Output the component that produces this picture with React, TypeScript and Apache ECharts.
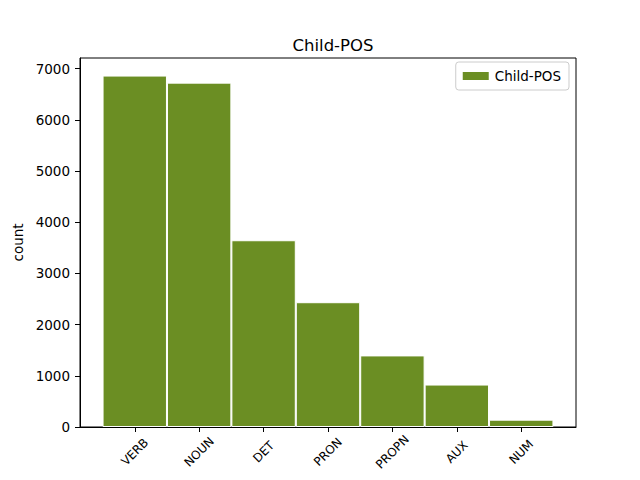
import React, { useEffect, useRef } from "react";
import * as echarts from "echarts";

const categories = ["VERB", "NOUN", "DET", "PRON", "PROPN", "AUX", "NUM"];
const counts = [6863, 6725, 3647, 2437, 1398, 829, 143];
const yTicks = [0, 1000, 2000, 3000, 4000, 5000, 6000, 7000];
const seriesName = "Child-POS";
const titleText = "Child-POS";
const yAxisName = "count";

export default function App() {
  const ref = useRef<HTMLDivElement>(null);
  useEffect(() => {
    if (!ref.current) return;
    const chart = echarts.init(ref.current, null, { renderer: "svg" });
    const font = "DejaVu Sans";
    const positions = categories.map((_, i) => i);
    chart.setOption({
      animation: false,
      backgroundColor: "#ffffff",
      textStyle: { fontFamily: font },
      title: {
        text: titleText,
        left: 328,
        textAlign: "center",
        top: 32,
        textStyle: { fontFamily: font, fontSize: 16.5, fontWeight: "normal", color: "#000" },
      },
      legend: {
        right: 71,
        top: 62,
        orient: "vertical",
        data: [seriesName],
        icon: "rect",
        itemWidth: 28,
        itemHeight: 10,
        itemGap: 10,
        padding: [7, 8, 7, 5],
        borderColor: "#cccccc",
        borderWidth: 1,
        borderRadius: 3,
        backgroundColor: "rgba(255,255,255,0.8)",
        textStyle: { fontFamily: font, fontSize: 13.5, color: "#000" },
      },
      grid: {
        left: 80,
        right: 64,
        top: 58,
        bottom: 53,
        show: true,
        borderColor: "#000",
        borderWidth: 1,
        backgroundColor: "transparent",
      },
      xAxis: {
        type: "value",
        min: -0.85,
        max: 6.85,
        splitLine: { show: false },
        axisLine: { show: true, onZero: false, lineStyle: { color: "#000", width: 1 } },
        axisTick: {
          show: true,
          length: 5,
          inside: false,
          customValues: positions,
          lineStyle: { color: "#000" },
        },
        axisLabel: {
          customValues: positions,
          formatter: (v: number) => categories[Math.round(v)] ?? "",
          rotate: 45,
          align: "center",
          verticalAlign: "middle",
          margin: 25,
          fontFamily: font,
          fontSize: 12,
          color: "#000",
        },
      },
      yAxis: {
        type: "value",
        min: 0,
        max: 7206,
        name: yAxisName,
        nameLocation: "middle",
        nameGap: 50,
        nameRotate: 90,
        nameTextStyle: { fontFamily: font, fontSize: 13.5, color: "#000" },
        splitLine: { show: false },
        axisLine: { show: true, onZero: false, lineStyle: { color: "#000", width: 1 } },
        axisTick: {
          show: true,
          length: 5,
          inside: false,
          customValues: yTicks,
          lineStyle: { color: "#000" },
        },
        axisLabel: {
          customValues: yTicks,
          formatter: (v: number) => String(v),
          margin: 10,
          fontFamily: font,
          fontSize: 13.5,
          color: "#000",
        },
      },
      series: [
        {
          name: seriesName,
          type: "bar",
          data: categories.map((_, i) => [i, counts[i]]),
          barWidth: 64.4,
          itemStyle: { color: "#6b8e23", borderColor: "#ffffff", borderWidth: 1 },
        },
      ],
    });
    return () => chart.dispose();
  }, []);
  return (
    <div
      ref={ref}
      style={{ position: "absolute", left: 0, top: 0, width: 640, height: 480 }}
    />
  );
}
